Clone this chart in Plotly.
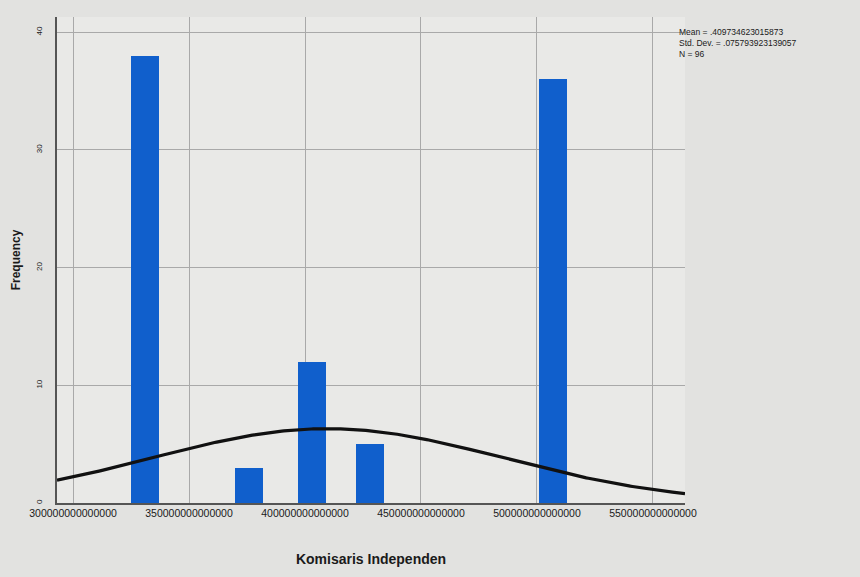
import numpy as np
import plotly.graph_objects as go

# Histogram of Komisaris Independen (bar centres, counts)
bin_centers = [0.331, 0.376, 0.403, 0.428, 0.507]
frequencies = [38, 3, 12, 5, 36]
bin_width = 0.0125

# Summary statistics shown beside the chart
mean_val = 0.409734623015873
std_val = 0.075793923139057
n_obs = 96
stats_lines = ["Mean = .409734623015873", "Std. Dev. = .075793923139057", "N = 96"]

x_tick_vals = [0.30, 0.35, 0.40, 0.45, 0.50, 0.55]
x_tick_text = ["300000000000000", "350000000000000", "400000000000000",
               "450000000000000", "500000000000000", "550000000000000"]
y_tick_vals = [0, 10, 20, 30, 40]

x_min, x_max = 0.2931, 0.5638
y_max = 41.3

# Normal curve scaled to the histogram
xs = np.linspace(x_min, x_max, 300)
ys = n_obs * bin_width / (std_val * np.sqrt(2 * np.pi)) * np.exp(-0.5 * ((xs - mean_val) / std_val) ** 2)

fig = go.Figure()
fig.add_trace(go.Bar(
    x=bin_centers, y=frequencies, width=0.012,
    marker=dict(color="#105fcc", line=dict(width=0)),
    hoverinfo="skip",
))
fig.add_trace(go.Scatter(
    x=xs, y=ys, mode="lines",
    line=dict(color="#111111", width=3.2),
    hoverinfo="skip",
))

fig.update_layout(
    width=860, height=577,
    margin=dict(l=57, r=175, t=17, b=72),
    paper_bgcolor="#e2e2e0",
    plot_bgcolor="#e9e9e7",
    showlegend=False,
    bargap=0,
    font=dict(family="Liberation Sans, Arial, sans-serif", color="#1a1a1a"),
    xaxis=dict(
        range=[x_min, x_max],
        tickvals=x_tick_vals, ticktext=x_tick_text,
        tickfont=dict(size=10.5, color="#1a1a1a"),
        showgrid=True, gridcolor="#a9a9a9", gridwidth=1,
        showline=True, linecolor="#555555", linewidth=1.5,
        ticks="", zeroline=False,
        title=dict(text="<b>Komisaris Independen</b>", font=dict(size=14), standoff=36),
    ),
    yaxis=dict(
        range=[0, y_max],
        tickvals=y_tick_vals,
        tickangle=-90,
        ticklabelstandoff=10,
        tickfont=dict(size=8, color="#1a1a1a"),
        showgrid=True, gridcolor="#a9a9a9", gridwidth=1,
        showline=True, linecolor="#555555", linewidth=1.5,
        ticks="", zeroline=False,
        title=dict(text="<b>Frequency</b>", font=dict(size=12), standoff=12),
    ),
)

fig.add_annotation(
    xref="paper", yref="paper", x=1.0, y=0.983, xanchor="left", yanchor="top",
    xshift=-8,
    text="<br>".join(stats_lines),
    showarrow=False, align="left",
    font=dict(size=8.5, family="Liberation Sans Narrow, Liberation Sans, Arial", color="#1a1a1a"),
)

fig.write_html("out.html")
